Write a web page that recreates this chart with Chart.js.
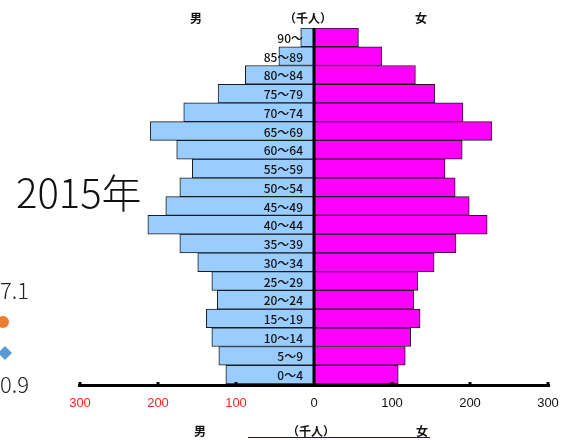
<!DOCTYPE html>
<html>
<head>
<meta charset="utf-8">
<script src="https://cdn.jsdelivr.net/npm/chart.js@4"></script>
<style>
body{margin:0;background:#fff;}
#wrap{width:561px;height:440px;position:relative;}
</style>
</head>
<body>
<div id="wrap"><canvas id="pyramid"></canvas></div>
<script>
// 年齢階級（下から上へ）
const ages = ['0～4','5～9','10～14','15～19','20～24','25～29','30～34','35～39','40～44','45～49',
'50～54','55～59','60～64','65～69','70～74','75～79','80～84','85～89','90～'];
// 千人
const male = [113,122,131,138,124,131,149,172,213,190,172,156,176,210,167,123,88,45,17];
const female = [108,117,124,136,128,133,154,182,222,199,181,168,190,228,191,155,130,87,57];
const tickValues = [-300,-200,-100,0,100,200,300];
const tickLabels = ['300','200','100','0','100','200','300'];

const jp = '"Noto Sans CJK JP", "Noto Sans", sans-serif';

const decor = {
id:'decor',
afterDatasetsDraw(chart){
const ctx = chart.ctx;
const xs = chart.scales.x, ys = chart.scales.y;
const area = chart.chartArea;
const x0 = xs.getPixelForValue(0);
ctx.save();

// center line
ctx.fillStyle = '#000';
ctx.fillRect(x0-1.5, area.top, 3, area.bottom-area.top+2);

// bottom axis
ctx.fillRect(xs.getPixelForValue(-300)-2, area.bottom, xs.getPixelForValue(300)-xs.getPixelForValue(-300)+4, 3);
tickValues.forEach(v=>{
if(v===0) return;
const px = xs.getPixelForValue(v);
ctx.fillRect(px-1.5, area.bottom-2, 3, 3);
});

// tick labels
ctx.font = '13px "Liberation Sans", Arial, sans-serif';
ctx.textAlign = 'center';
ctx.textBaseline = 'middle';
tickValues.forEach((v,i)=>{
ctx.fillStyle = v<0 ? '#ff2020' : '#111';
ctx.fillText(tickLabels[i], xs.getPixelForValue(v), area.bottom+19);
});

// age labels
ctx.font = '500 12px ' + jp;
ctx.fillStyle = '#111';
ctx.textAlign = 'right';
ages.forEach((a,i)=>{
ctx.fillText(a, x0-11, ys.getPixelForValue(i)+1);
});

// headers
ctx.fillStyle = '#111';
ctx.textAlign = 'center';
ctx.font = 'bold 12px ' + jp;
ctx.fillText('男', 196, 18);
ctx.fillText('（千人）', 308, 18);
ctx.fillText('女', 421, 18);
ctx.fillText('男', 200, 431);
ctx.fillText('（千人）', 311, 431);
ctx.fillText('女', 422, 431);
ctx.fillStyle = '#301040';
ctx.fillRect(248, 437, 182, 1);

// left fragments
ctx.fillStyle = '#111';
ctx.textAlign = 'left';
ctx.font = '300 40px ' + jp;
ctx.fillText('2015年', 16, 193);
ctx.textAlign = 'right';
ctx.font = '300 22px ' + jp;
ctx.fillStyle = '#222';
ctx.fillText('7.1', 29, 291);
ctx.fillText('0.9', 29, 385);
ctx.fillStyle = '#ed7d31';
ctx.beginPath();
ctx.arc(3, 322, 6, 0, Math.PI*2);
ctx.fill();
ctx.fillStyle = '#5b9bd5';
ctx.beginPath();
ctx.moveTo(5, 346); ctx.lineTo(12, 353); ctx.lineTo(5, 360); ctx.lineTo(-2, 353);
ctx.closePath();
ctx.fill();

ctx.restore();
}
};

new Chart(document.getElementById('pyramid'), {
type:'bar',
data:{
labels: ages,
datasets:[
{label:'男', data: male.map(v=>-v), backgroundColor:'#99ccff', borderColor:'#1a1a1a', borderWidth:1, borderSkipped:false},
{label:'女', data: female, backgroundColor:'#ff00ff', borderColor:'#1a1a1a', borderWidth:1, borderSkipped:false}
]
},
options:{
indexAxis:'y',
responsive:true,
maintainAspectRatio:false,
animation:false,
layout:{padding:{left:80, right:13, top:28, bottom:56}},
datasets:{bar:{barPercentage:1, categoryPercentage:1}},
plugins:{legend:{display:false}, tooltip:{enabled:false}},
scales:{
x:{display:false, min:-300, max:300, stacked:true},
y:{display:false, reverse:true, stacked:true}
}
},
plugins:[decor]
});
</script>
</body>
</html>
